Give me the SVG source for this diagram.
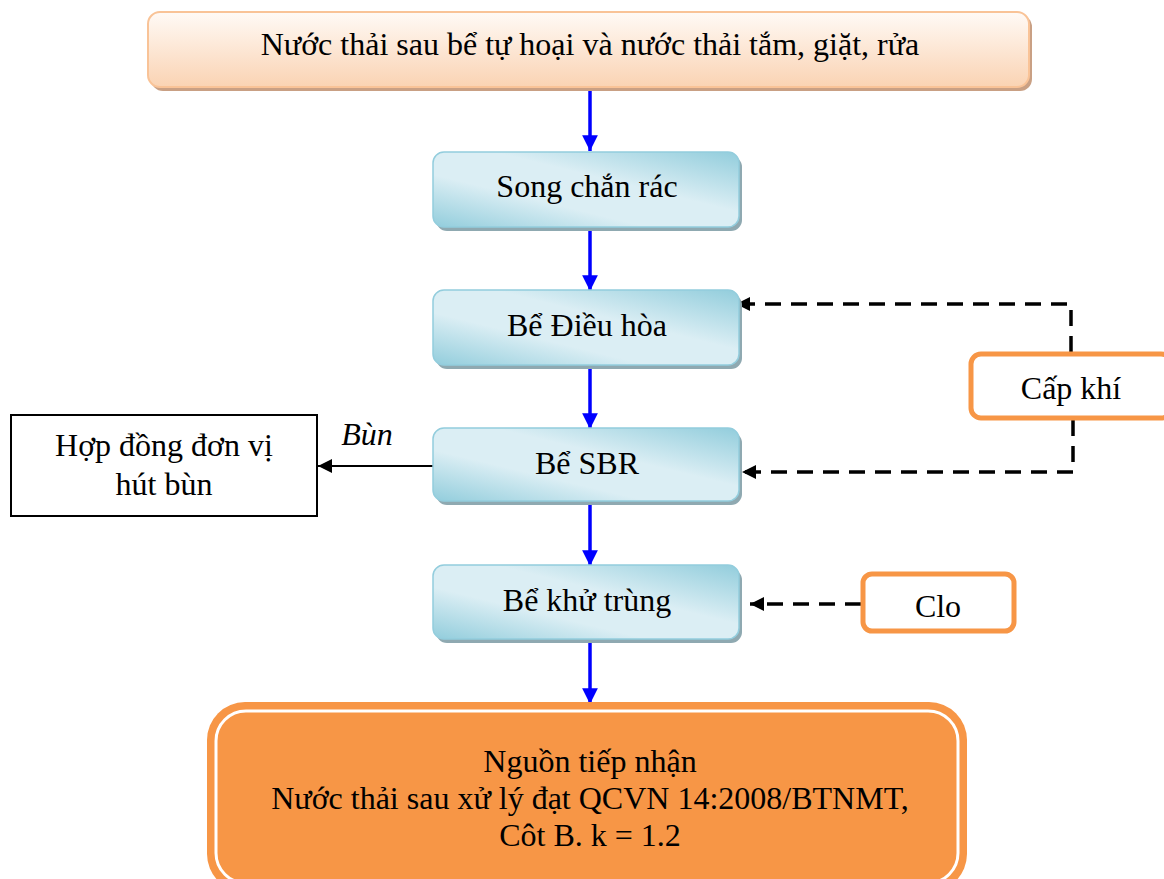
<svg xmlns="http://www.w3.org/2000/svg" width="1164" height="879" viewBox="0 0 1164 879">
<style>
.t{font-family:"Liberation Serif","Times New Roman",serif;font-size:32px;fill:#000;text-anchor:middle}
.blue{stroke:#0000ff;stroke-width:3.5;fill:none}
.dash{stroke:#000;stroke-width:3.5;fill:none;stroke-dasharray:16 10}
.proc{fill:url(#gBlue);stroke:#93cddd;stroke-width:1.5}
.shadow{fill:#8fa9b1}
.orange{fill:#fff;stroke:#f79646;stroke-width:5}
</style>
<defs>
<linearGradient id="gBlue" x1="0" y1="1" x2="1" y2="0">
<stop offset="0" stop-color="#92cddc"/>
<stop offset="0.35" stop-color="#dbeef4"/>
<stop offset="0.6" stop-color="#dbeef4"/>
<stop offset="1" stop-color="#92cddc"/>
</linearGradient>
<linearGradient id="gPeach" x1="0" y1="0" x2="0" y2="1">
<stop offset="0" stop-color="#fffaf6"/>
<stop offset="1" stop-color="#fad3b3"/>
</linearGradient>
<marker id="aBlue" viewBox="0 0 10 10" refX="10" refY="5" markerWidth="4.5" markerHeight="4.5" orient="auto" markerUnits="strokeWidth">
<path d="M0,0 L10,5 L0,10 z" fill="#0000ff"/>
</marker>
<marker id="aBlack" viewBox="0 0 10 10" refX="10" refY="5" markerWidth="4" markerHeight="4" orient="auto" markerUnits="strokeWidth">
<path d="M0,0 L10,5 L0,10 z" fill="#000"/>
</marker>
<marker id="aBlack2" viewBox="0 0 10 10" refX="10" refY="5" markerWidth="7" markerHeight="7" orient="auto" markerUnits="strokeWidth">
<path d="M0,0 L10,5 L0,10 z" fill="#000"/>
</marker>
</defs>

<g id="connectors">
<line class="blue" x1="590" y1="90" x2="590" y2="151" marker-end="url(#aBlue)"/>
<line class="blue" x1="590" y1="230" x2="590" y2="291" marker-end="url(#aBlue)"/>
<line class="blue" x1="590" y1="367" x2="590" y2="429" marker-end="url(#aBlue)"/>
<line class="blue" x1="590" y1="503" x2="590" y2="566" marker-end="url(#aBlue)"/>
<line class="blue" x1="590" y1="641" x2="590" y2="704" marker-end="url(#aBlue)"/>
<polyline class="dash" points="1071,352 1071,304 736,304" marker-end="url(#aBlack)"/>
<polyline class="dash" points="1073,420 1073,472 742,472" marker-end="url(#aBlack)"/>
<line class="dash" x1="861" y1="604" x2="750" y2="604" marker-end="url(#aBlack)"/>
<line stroke="#000" stroke-width="2" x1="433" y1="466" x2="318" y2="466" marker-end="url(#aBlack2)"/>
<text x="367" y="445" class="t" font-style="italic" font-size="28">Bùn</text>
</g>

<g id="n-source">
<rect x="151" y="15" width="881" height="76" rx="12" fill="#c9a084"/>
<rect x="148" y="12" width="881" height="75" rx="12" fill="url(#gPeach)" stroke="#f9c397" stroke-width="2"/>
<text x="590" y="55" class="t">Nước thải sau bể tự hoại và nước thải tắm, giặt, rửa</text>
</g>

<g id="n-song">
<rect x="436" y="156" width="306" height="75" rx="11" class="shadow"/>
<rect x="433" y="152" width="306" height="75" rx="11" class="proc"/>
<text x="587" y="197" class="t">Song chắn rác</text>
</g>

<g id="n-dieuhoa">
<rect x="436" y="294" width="306" height="75" rx="11" class="shadow"/>
<rect x="433" y="290" width="306" height="75" rx="11" class="proc"/>
<text x="587" y="336" class="t">Bể Điều hòa</text>
</g>

<g id="n-sbr">
<rect x="436" y="432" width="306" height="73" rx="11" class="shadow"/>
<rect x="433" y="428" width="306" height="73" rx="11" class="proc"/>
<text x="587" y="474" class="t">Bể SBR</text>
</g>

<g id="n-khutrung">
<rect x="436" y="569" width="306" height="74" rx="11" class="shadow"/>
<rect x="433" y="565" width="306" height="74" rx="11" class="proc"/>
<text x="587" y="611" class="t">Bể khử trùng</text>
</g>

<g id="n-hutbun">
<rect x="11" y="415" width="306" height="101" fill="#fff" stroke="#000" stroke-width="2"/>
<text x="164" y="456" class="t">Hợp đồng đơn vị</text>
<text x="164" y="495" class="t">hút bùn</text>
</g>

<g id="n-capkhi">
<rect x="971" y="354" width="200" height="64" rx="10" class="orange"/>
<text x="1071" y="399" class="t">Cấp khí</text>
</g>

<g id="n-clo">
<rect x="863" y="574" width="151" height="57" rx="9" class="orange"/>
<text x="938" y="617" class="t">Clo</text>
</g>

<g id="n-nguon">
<rect x="207" y="702" width="760" height="190" rx="38" fill="#f79646"/>
<rect x="216" y="711" width="742" height="172" rx="30" fill="#f79646" stroke="#fff" stroke-width="3"/>
<text x="590" y="772" class="t">Nguồn tiếp nhận</text>
<text x="590" y="809" class="t">Nước thải sau xử lý đạt QCVN 14:2008/BTNMT,</text>
<text x="590" y="846" class="t">Côt B. k = 1.2</text>
</g>
</svg>
